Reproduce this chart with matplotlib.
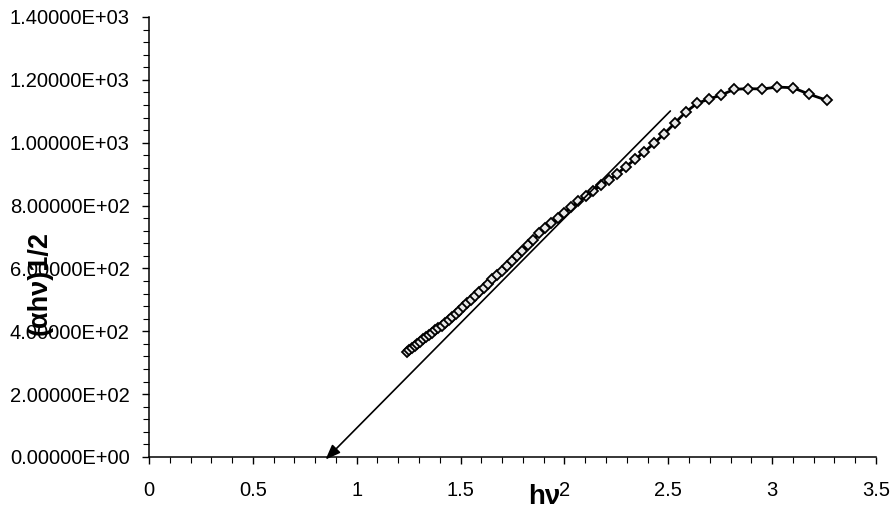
import matplotlib
matplotlib.use("Agg")
import matplotlib.pyplot as plt
from matplotlib.ticker import MultipleLocator, FormatStrFormatter

# photon energy hv (eV), one point per marker
hv = [1.240, 1.2525, 1.2653, 1.2784, 1.2917, 1.3053, 1.3191, 1.3333, 1.3478,
      1.3626, 1.3778, 1.3933, 1.4091, 1.4253, 1.4419, 1.4588, 1.4762, 1.4940,
      1.5122, 1.5309, 1.5500, 1.5696, 1.5897, 1.6104, 1.6316, 1.6533, 1.6757,
      1.6986, 1.7222, 1.7465, 1.7714, 1.7971, 1.8235, 1.8507, 1.8788, 1.9077,
      1.9375, 1.9683, 2.0000, 2.0328, 2.0667, 2.1017, 2.1379, 2.1754, 2.2143,
      2.2545, 2.2963, 2.3396, 2.3846, 2.4314, 2.4800, 2.5306, 2.5833, 2.6383,
      2.6957, 2.7556, 2.8182, 2.8837, 2.9524, 3.0244, 3.1000, 3.1795, 3.2632]
# (alpha*h*nu)^(1/2)
ahv = [333, 340, 346, 353, 360, 367, 374, 381, 387,
       395, 403, 410, 418, 427, 436, 446, 455, 466,
       477, 489, 501, 513, 525, 538, 551, 565, 579,
       593, 608, 623, 640, 656, 673, 690, 712, 728,
       743, 759, 777, 794, 813, 829, 847, 864, 881,
       902, 924, 947, 971, 998, 1028, 1062, 1097, 1125,
       1139, 1152, 1170, 1172, 1171, 1177, 1175, 1154, 1135]

# hand-drawn tangent arrow (start, tip)
fit_start = (2.51, 1101)
fit_tip = (0.85, -8)

plt.rcParams["font.family"] = ["Liberation Sans", "DejaVu Sans"]

fig = plt.figure(figsize=(8.91, 5.15), dpi=100)
ax = fig.add_axes([149 / 891, 1 - 457 / 515, 727 / 891, 440 / 515])

ax.plot(hv, ahv, color="black", lw=2.0, marker="D", markersize=5.2,
        markerfacecolor="#e8e8e8", markeredgecolor="black", markeredgewidth=1.3)

ax.annotate("", xy=fit_tip, xytext=fit_start, annotation_clip=False,
            arrowprops=dict(arrowstyle="-|>,head_length=0.9,head_width=0.35",
                            color="black", lw=1.2, shrinkA=0, shrinkB=0))

ax.set_xlim(0, 3.5)
ax.set_ylim(0, 1400)
ax.xaxis.set_major_locator(MultipleLocator(0.5))
ax.xaxis.set_minor_locator(MultipleLocator(0.1))
ax.yaxis.set_major_locator(MultipleLocator(200))
ax.yaxis.set_minor_locator(MultipleLocator(40))
ax.xaxis.set_major_formatter(lambda v, p: f"{v:g}")
ax.yaxis.set_major_formatter(FormatStrFormatter("%.5E"))

for side in ("top", "right"):
    ax.spines[side].set_visible(False)
ax.spines["left"].set_linewidth(1.1)
ax.spines["bottom"].set_linewidth(1.1)
ax.tick_params(axis="both", which="both", direction="out", color="black")
ax.tick_params(axis="y", which="major", length=5, width=1, pad=9, labelsize=14.5)
ax.tick_params(axis="y", which="minor", length=4, width=0.8)
ax.tick_params(axis="x", which="major", length=5, width=1, pad=12, labelsize=14.5)
ax.tick_params(axis="x", which="minor", length=4, width=0.8)

# axis titles placed as in the original chart (the "2" after hν is the tick label)
fig.text(40 / 891, 1 - 283 / 515, "(αhν)1/2", rotation=90, fontsize=19.5,
         fontweight="bold", ha="center", va="center")
fig.text(544 / 891, 1 - 497 / 515, "hν", fontsize=20, fontweight="bold",
         ha="center", va="center")

fig.savefig("out.png", dpi=100)
